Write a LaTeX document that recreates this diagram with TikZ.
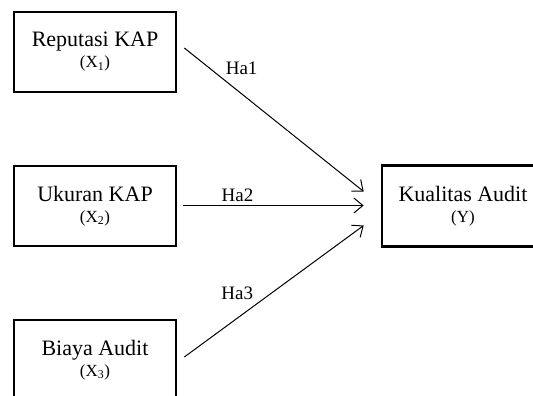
\documentclass[tikz,border=0pt]{standalone}
\usepackage{fontspec}
\setmainfont{Liberation Serif}
\usetikzlibrary{arrows.meta}

\newcommand{\varname}[1]{{\fontsize{17}{17}\selectfont(X\textsubscript{#1})}}

\begin{document}
\begin{tikzpicture}[x=1pt,y=1pt,
					node distance=154pt,
					box/.style={rectangle,draw,line width=2.7pt,
					            minimum width=162pt,minimum height=80pt,
					            align=center,font=\fontsize{22}{21}\selectfont},
					link/.style={-{Straight Barb[length=9pt,width=15pt]},line width=1pt},
					hyp/.style={font=\fontsize{19}{19}\selectfont}]

  \clip (0,0) rectangle (533,-396);

  \node[box] (rep) at (95,-52) {Reputasi KAP\\\varname{1}};
  \node[box] (uk) [below of=rep] {Ukuran KAP\\\varname{2}};
  \node[box] (bia) [below of=uk] {Biaya Audit\\\varname{3}};
  \node[box, minimum height=81pt, minimum width=170pt] (kual)
       [node distance=372pt, right of=uk]
       {\hspace*{-8pt}Kualitas Audit\\\hspace*{-8pt}{\fontsize{17}{17}\selectfont(Y)}};

  \path[link]
    ([xshift=7pt,yshift=4pt]rep.east) edge node[hyp, pos=0.21, above right] {Ha1}
        ([xshift=-17pt,yshift=14.5pt]kual.west)
    ([xshift=6pt,yshift=0.5pt]uk.east) edge node[hyp, pos=0.30, above] {Ha2}
        ([xshift=-17pt,yshift=0.5pt]kual.west)
    ([xshift=7pt,yshift=3pt]bia.east) edge node[hyp, pos=0.405, above left] {Ha3}
        ([xshift=-17pt,yshift=-19.5pt]kual.west);
\end{tikzpicture}
\end{document}
